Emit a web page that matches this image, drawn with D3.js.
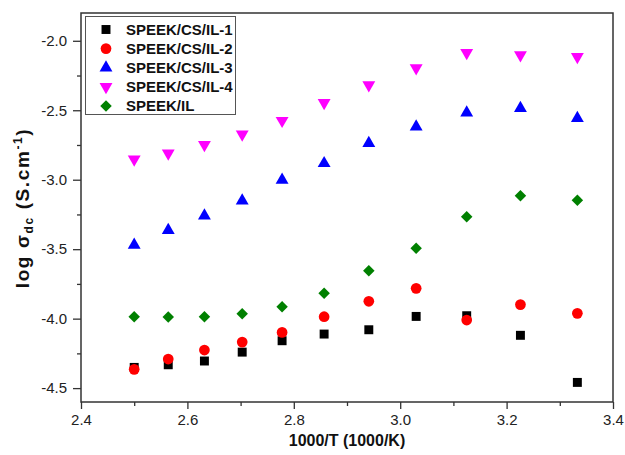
<!DOCTYPE html>
<html><head><meta charset="utf-8">
<script src="https://cdn.jsdelivr.net/npm/d3@7"></script>
<style>body{margin:0;background:#fff;}svg{display:block;}</style>
</head><body>
<script>
const xValues = [2.5, 2.564, 2.632, 2.703, 2.778, 2.857, 2.941, 3.030, 3.125, 3.226, 3.333];
const il1 = [-4.351, -4.332, -4.305, -4.241, -4.159, -4.111, -4.080, -3.984, -3.979, -4.120, -4.459];
const il2 = [-4.365, -4.291, -4.226, -4.169, -4.099, -3.986, -3.875, -3.782, -4.010, -3.899, -3.962];
const il3 = [-3.470, -3.364, -3.259, -3.151, -3.002, -2.882, -2.738, -2.619, -2.518, -2.486, -2.558];
const il4 = [-2.853, -2.810, -2.748, -2.673, -2.575, -2.446, -2.318, -2.196, -2.086, -2.102, -2.115];
const speekIL = [-3.986, -3.989, -3.986, -3.965, -3.914, -3.818, -3.655, -3.494, -3.267, -3.115, -3.148];
const seriesNames = ["SPEEK/CS/IL-1", "SPEEK/CS/IL-2", "SPEEK/CS/IL-3", "SPEEK/CS/IL-4", "SPEEK/IL"];
const xTicks = [2.4, 2.6, 2.8, 3.0, 3.2, 3.4];
const yTicks = [-2.0, -2.5, -3.0, -3.5, -4.0, -4.5];

const W = 625, H = 455;
const m = {left: 81, right: 12, top: 13, bottom: 53};
const svg = d3.select("body").append("svg").attr("width", W).attr("height", H);
const x = d3.scaleLinear().domain([2.4, 3.4]).range([m.left, W - m.right]);
const y = d3.scaleLinear().domain([-4.6, -1.8]).range([H - m.bottom, m.top]);

const series = [
  {name: seriesNames[0], vals: il1, color: "#000000", sym: d3.symbolSquare, size: 80, rot: 0},
  {name: seriesNames[1], vals: il2, color: "#ff0000", sym: d3.symbolCircle, size: 90, rot: 0},
  {name: seriesNames[2], vals: il3, color: "#0000ff", sym: d3.symbolTriangle, size: 72, rot: 0},
  {name: seriesNames[3], vals: il4, color: "#ff00ff", sym: d3.symbolTriangle, size: 72, rot: 180},
  {name: seriesNames[4], vals: speekIL, color: "#008000", sym: d3.symbolSquare, size: 66, rot: 45}
];

const font = "'Liberation Sans', Arial, sans-serif";
const isMajorX = d => Math.round(d * 10) % 2 === 0;
const isMajorY = d => Math.round(d * 4) % 2 === 0;

// axes
const minorX = d3.range(24, 35).map(v => v / 10);
const gx = svg.append("g").attr("transform", `translate(0,${H - m.bottom})`)
  .call(d3.axisBottom(x).tickValues(minorX).tickSize(7).tickPadding(5)
    .tickFormat(d => isMajorX(d) ? (Math.round(d*10)/10).toFixed(1) : ""));
gx.selectAll(".tick line").attr("y2", d => isMajorX(d) ? 7 : 4);
gx.selectAll(".tick text").attr("font-size", 15).attr("font-family", font).attr("fill", "#222");

const minorY = d3.range(-18, -7).map(v => v / 4);
const gy = svg.append("g").attr("transform", `translate(${m.left},0)`)
  .call(d3.axisLeft(y).tickValues(minorY).tickSize(8).tickPadding(6)
    .tickFormat(d => isMajorY(d) ? d.toFixed(1) : ""));
gy.selectAll(".tick line").attr("x2", d => isMajorY(d) ? -8 : -4);
gy.selectAll(".tick text").attr("font-size", 15).attr("font-family", font).attr("fill", "#222");
svg.selectAll(".domain").remove();
svg.selectAll(".tick line").attr("stroke", "#333").attr("stroke-width", 1.3);

// frame
svg.append("rect").attr("x", m.left).attr("y", m.top)
  .attr("width", W - m.left - m.right).attr("height", H - m.top - m.bottom)
  .attr("fill", "none").attr("stroke", "#333").attr("stroke-width", 1.5);

// points
series.forEach(s => {
  svg.append("g").selectAll("path").data(s.vals).join("path")
    .attr("d", d3.symbol().type(s.sym).size(s.size))
    .attr("transform", (d, i) => `translate(${x(xValues[i])},${y(d)}) rotate(${s.rot})`)
    .attr("fill", s.color);
});

// legend
const lg = svg.append("g");
lg.append("rect").attr("x", 85.5).attr("y", 16.5).attr("width", 150).attr("height", 98)
  .attr("fill", "#fff").attr("stroke", "#555").attr("stroke-width", 1);
series.forEach((s, i) => {
  const cy = 29.5 + i * 19.1;
  lg.append("path").attr("d", d3.symbol().type(s.sym).size(s.size))
    .attr("transform", `translate(106,${cy}) rotate(${s.rot})`).attr("fill", s.color);
  lg.append("text").attr("x", 126).attr("y", cy).attr("dy", "0.36em")
    .attr("font-family", font).attr("font-weight", "bold").attr("font-size", 15)
    .attr("fill", "#111").text(s.name);
});

// axis titles
svg.append("text").attr("x", (m.left + W - m.right)/2).attr("y", 446).attr("text-anchor", "middle")
  .attr("font-family", font).attr("font-weight", "bold").attr("font-size", 16).attr("fill", "#111")
  .text("1000/T (1000/K)");
const yt = svg.append("text").attr("transform", `translate(29,208) rotate(-90)`)
  .attr("text-anchor", "middle").attr("font-family", font).attr("font-weight", "bold")
  .attr("font-size", 19).attr("letter-spacing", 1.6).attr("fill", "#111");
yt.append("tspan").text("log σ");
yt.append("tspan").attr("font-size", 12).attr("dy", 4).text("dc");
yt.append("tspan").attr("dy", -4).text(" (S.cm");
yt.append("tspan").attr("font-size", 12).attr("dy", -7).text("-1");
yt.append("tspan").attr("dy", 7).text(")");
</script>
</body></html>
